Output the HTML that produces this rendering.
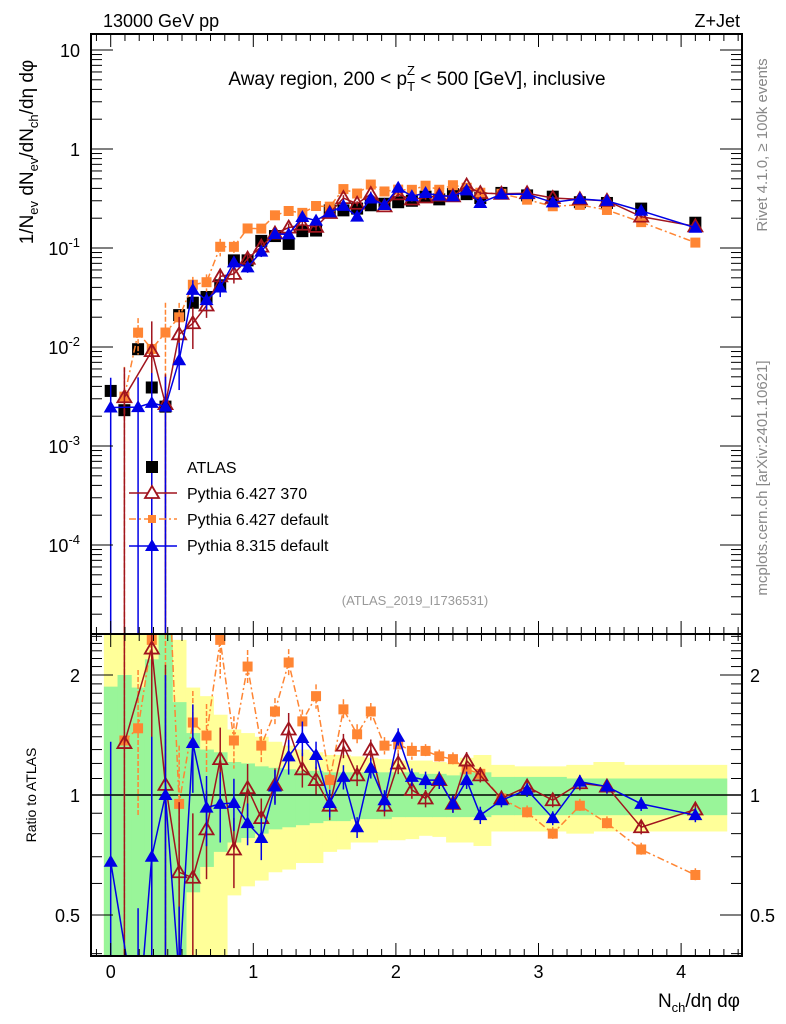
<!DOCTYPE html>
<html><head><meta charset="utf-8"><style>
html,body{margin:0;padding:0;background:#fff;overflow:hidden;width:786px;height:1024px;}
svg{display:block;font-family:"Liberation Sans",sans-serif;}
</style></head><body>
<svg id="chart" width="786" height="1024" viewBox="0 0 786 1024" xmlns="http://www.w3.org/2000/svg">
<defs>
<clipPath id="clipMain"><rect x="91" y="34" width="651" height="600"/></clipPath>
<clipPath id="clipRatio"><rect x="91" y="634" width="651" height="322"/></clipPath>
</defs>
<g id="bands" clip-path="url(#clipRatio)"></g>
<g id="ratioMarks" clip-path="url(#clipRatio)"></g>
<g id="mainMarks" clip-path="url(#clipMain)"></g>
<g id="axes"></g>
<text x="103" y="27" font-size="18">13000 GeV pp</text>
<text x="740" y="27" font-size="18" text-anchor="end">Z+Jet</text>
<text x="417" y="85" font-size="19" text-anchor="middle">Away region, 200 &lt; p<tspan font-size="13" dy="6">T</tspan><tspan font-size="13" dx="-8" dy="-16">Z</tspan><tspan dy="10"> &lt; 500 [GeV], inclusive</tspan></text>
<text x="415" y="605" font-size="13" fill="#999" text-anchor="middle">(ATLAS_2019_I1736531)</text>
<text transform="translate(767,145) rotate(-90)" font-size="15" fill="#888" text-anchor="middle">Rivet 4.1.0, ≥ 100k events</text>
<text transform="translate(767,478) rotate(-90)" font-size="15" fill="#888" text-anchor="middle">mcplots.cern.ch [arXiv:2401.10621]</text>
<text transform="translate(33,152) rotate(-90)" font-size="19" text-anchor="middle">1/N<tspan font-size="13" dy="5">ev</tspan><tspan dy="-5"> dN</tspan><tspan font-size="13" dy="5">ev</tspan><tspan dy="-5">/dN</tspan><tspan font-size="13" dy="5">ch</tspan><tspan dy="-5">/dη dφ</tspan></text>
<text transform="translate(36,795) rotate(-90)" font-size="14" text-anchor="middle">Ratio to ATLAS</text>
<text x="740" y="1007" font-size="19" text-anchor="end">N<tspan font-size="13" dy="5">ch</tspan><tspan dy="-5">/dη dφ</tspan></text>
<g id="legend">
<g><rect x="146" y="461" width="12" height="12" fill="#000"/><text x="187" y="473" font-size="16">ATLAS</text></g>
<g><line x1="129" y1="493" x2="177" y2="493" stroke="#a0141e" stroke-width="1.5"/><polygon points="152,486 159,498 145,498" fill="#fff" stroke="#a0141e" stroke-width="1.8"/><text x="187" y="499" font-size="16">Pythia 6.427 370</text></g>
<g><line x1="129" y1="519" x2="177" y2="519" stroke="#ff8533" stroke-width="1.5" stroke-dasharray="7,3,2,3"/><rect x="148" y="515" width="8" height="8" fill="#ff8533"/><text x="187" y="525" font-size="16">Pythia 6.427 default</text></g>
<g><line x1="129" y1="546" x2="177" y2="546" stroke="#0000e6" stroke-width="1.5"/><polygon points="152,539 159,551 145,551" fill="#0000e6"/><text x="187" y="551" font-size="16">Pythia 8.315 default</text></g>
</g>
</svg>
<script>
// ---- data ----
const xVals = [0,0.096,0.192,0.288,0.384,0.48,0.576,0.672,0.768,0.864,0.96,1.056,1.152,1.248,1.344,1.44,1.536,1.632,1.728,1.824,1.92,2.016,2.112,2.208,2.304,2.4,2.496,2.592,2.74,2.92,3.10,3.29,3.48,3.72,4.10];
const atlas = [3.6e-3,2.3e-3,9.5e-3,3.9e-3,2.5e-3,0.021,0.028,0.032,0.042,0.075,0.075,0.118,0.132,0.11,0.148,0.15,0.24,0.24,0.25,0.27,0.28,0.29,0.30,0.33,0.31,0.35,0.35,0.32,0.36,0.34,0.33,0.29,0.285,0.25,0.18];
const ratio370 = [null,1.35,null,2.33,1.06,0.64,0.62,0.82,1.23,0.73,1.04,0.875,1.06,1.46,1.16,1.09,0.94,1.33,1.12,1.30,0.94,1.2,1.03,0.98,1.09,0.95,1.22,1.12,0.98,1.05,0.97,1.07,1.05,0.83,0.92];
const ratio6def = [null,1.37,1.47,2.45,5.6,0.95,1.52,1.41,2.45,1.37,2.1,1.33,1.62,2.15,1.53,1.77,1.09,1.64,1.42,1.62,1.33,1.34,1.29,1.29,1.25,1.23,1.16,1.13,0.98,0.905,0.80,0.94,0.85,0.73,0.63];
const ratio8def = [0.68,null,0.26,0.70,1.0,0.35,1.35,0.93,0.95,0.955,0.85,0.78,1.05,1.25,1.39,1.26,0.955,1.11,0.83,1.17,0.97,1.4,1.11,1.09,1.09,0.95,1.09,0.89,0.97,1.03,0.875,1.08,1.05,0.95,0.89];
const err370 = [0,1.0,0,1.0,1.0,0.5,0.45,0.25,0.2,0.2,0.15,0.12,0.1,0.1,0.1,0.08,0.08,0.07,0.06,0.06,0.06,0.06,0.05,0.05,0.05,0.05,0.05,0.04,0.04,0.04,0.04,0.04,0.04,0.04,0.04];
const err6def = [0,1.0,0.4,0.35,1.0,0.4,0.2,0.2,0.2,0.15,0.1,0.1,0.08,0.08,0.07,0.07,0.06,0.06,0.06,0.05,0.05,0.05,0.05,0.04,0.04,0.04,0.04,0.04,0.04,0.04,0.04,0.04,0.04,0.04,0.04];
const err8def = [1.0,0,1.0,1.0,1.0,0.5,0.25,0.2,0.2,0.15,0.12,0.12,0.1,0.1,0.1,0.08,0.08,0.07,0.06,0.06,0.06,0.05,0.05,0.05,0.05,0.05,0.05,0.05,0.04,0.04,0.04,0.04,0.04,0.04,0.04];
const yelUp = [2.6,2.6,2.6,2.6,2.6,2.45,1.86,1.77,1.59,1.46,1.43,1.40,1.36,1.33,1.30,1.28,1.26,1.26,1.25,1.24,1.23,1.22,1.22,1.22,1.21,1.2,1.24,1.26,1.19,1.18,1.18,1.19,1.21,1.19,1.19];
const yelDn = [0.39,0.39,0.39,0.39,0.39,0.39,0.39,0.39,0.39,0.56,0.59,0.61,0.64,0.65,0.675,0.675,0.72,0.73,0.76,0.76,0.77,0.77,0.775,0.79,0.785,0.76,0.76,0.745,0.81,0.81,0.81,0.80,0.81,0.81,0.81];
const grnUp = [1.87,2.0,1.86,2.19,2.6,1.71,1.43,1.30,1.28,1.21,1.2,1.18,1.17,1.16,1.15,1.15,1.14,1.14,1.14,1.14,1.14,1.14,1.14,1.13,1.13,1.12,1.14,1.14,1.11,1.11,1.11,1.1,1.1,1.1,1.1];
const grnDn = [0.39,0.39,0.39,0.39,0.39,0.39,0.57,0.66,0.72,0.76,0.78,0.8,0.82,0.83,0.84,0.85,0.86,0.86,0.87,0.87,0.87,0.88,0.88,0.88,0.88,0.88,0.88,0.88,0.89,0.89,0.89,0.89,0.89,0.89,0.89];
const yTicksMain = ["10","1","10^-1","10^-2","10^-3","10^-4"];
const xTickLabels = ["0","1","2","3","4"];
const ratioTickLabels = ["2","1","0.5"];

// ---- axes functions ----
const X0=110.7, XS=142.6;
function xp(v){return X0+v*XS;}
function yMain(v){return 149-99*Math.log10(v);}
function yRatio(r){return 795-120*Math.log2(r);}
const NS="http://www.w3.org/2000/svg";
function mk(tag,attrs,parent){const e=document.createElementNS(NS,tag);for(const k in attrs)e.setAttribute(k,attrs[k]);parent.appendChild(e);return e;}
const bands=document.getElementById('bands'),rm=document.getElementById('ratioMarks'),mm=document.getElementById('mainMarks'),ax=document.getElementById('axes');

const edges=[];
for(let i=0;i<xVals.length;i++){
  const lo = i===0 ? xVals[0]-0.048 : (xVals[i-1]+xVals[i])/2;
  const hi = i===xVals.length-1 ? xVals[i]+0.22 : (xVals[i]+xVals[i+1])/2;
  edges.push([lo,hi]);
}
function band(up,dn,color,name){
  for(let i=0;i<xVals.length;i++){
    const y1=Math.max(yRatio(up[i]),630),y2=Math.min(yRatio(dn[i]),960);
    const r=mk('rect',{x:xp(edges[i][0]),y:y1,width:xp(edges[i][1])-xp(edges[i][0])+0.5,height:y2-y1,fill:color},bands);
    
    
  }
}
band(yelUp,yelDn,'#ffff99','total-uncertainty');
band(grnUp,grnDn,'#99f599','stat-uncertainty');
const one=mk('line',{x1:91,x2:742,y1:yRatio(1),y2:yRatio(1),stroke:'#000','stroke-width':1.5},rm);



const series=[
 {name:'pythia6-default',ratio:ratio6def,err:err6def,color:'#ff8533',dash:'7,3,2,3',marker:'sq'},
 {name:'pythia6-370',ratio:ratio370,err:err370,color:'#a0141e',dash:null,marker:'otri'},
 {name:'pythia8-default',ratio:ratio8def,err:err8def,color:'#0000e6',dash:null,marker:'tri'}
];
function marker(g,type,x,y,color){
  let e;
  if(type==='sq') e=mk('rect',{x:x-5,y:y-5,width:10,height:10,fill:color},g);
  else if(type==='otri') e=mk('polygon',{points:`${x},${y-7} ${x+7},${y+5} ${x-7},${y+5}`,fill:'none',stroke:color,'stroke-width':1.8},g);
  else e=mk('polygon',{points:`${x},${y-7} ${x+7},${y+5} ${x-7},${y+5}`,fill:color},g);
  return e;
}
function clampY(y,lo,hi){return Math.max(lo,Math.min(hi,y));}
function drawSeries(parent,s,valFn,yFn,panel,ymin,ymax){
  const g=mk('g',{},parent);
  
  
  let pts=[];
  for(let i=0;i<xVals.length;i++){const v=valFn(i);if(v===null)continue;pts.push([xp(xVals[i]),yFn(v),v,i]);}
  const line=mk('polyline',{points:pts.map(p=>p[0]+','+clampY(p[1],ymin-300,ymax+300)).join(' '),fill:'none',stroke:s.color,'stroke-width':1.5},g);
  if(s.dash) line.setAttribute('stroke-dasharray',s.dash);
  
  
  for(const p of pts){
    const e=s.err[p[3]];
    const lo=Math.max(p[2]*(1-e),1e-12),hi=p[2]*(1+e);
    const eb=mk('line',{x1:p[0],x2:p[0],y1:clampY(yFn(hi),ymin,ymax),y2:clampY(yFn(lo),ymin,ymax),stroke:s.color,'stroke-width':1.5},g);
    if(s.dash) eb.setAttribute('stroke-dasharray','5,2');
    
    
    if(p[1]<ymin-10||p[1]>ymax+10) continue;
    const m=marker(g,s.marker,p[0],p[1],s.color);
    
    
  }
}
for(const s of series){
  drawSeries(rm,s,i=>s.ratio[i],yRatio,'ratio',634,956);
  drawSeries(mm,s,i=>s.ratio[i]===null?null:atlas[i]*s.ratio[i],yMain,'main',34,634);
}
const ag=mk('g',{},mm);


for(let i=0;i<xVals.length;i++){
  const r=mk('rect',{x:xp(xVals[i])-6,y:yMain(atlas[i])-6,width:12,height:12,fill:'#000'},ag);
  
  
}
mm.insertBefore(ag,mm.firstChild);

// ---- axes ----
function ln(x1,y1,x2,y2,w){return mk('line',{x1,y1,x2,y2,stroke:'#000','stroke-width':w||1},ax);}
const fr1=mk('rect',{x:91,y:34,width:651,height:600,fill:'none',stroke:'#000','stroke-width':2},ax);


const fr2=mk('rect',{x:91,y:634,width:651,height:322,fill:'none',stroke:'#000','stroke-width':2},ax);


for(let k=-1;k<=44;k++){
  const x=xp(k/10); if(x<92||x>741) continue;
  const major=k%10===0; const L=major?13:7;
  ln(x,34,x,34+L); ln(x,634,x,634-L); ln(x,634,x,634+L); ln(x,956,x,956-L);
}
xTickLabels.forEach((t,j)=>{const e=mk('text',{x:xp(j),y:978,'font-size':18,'text-anchor':'middle'},ax);e.textContent=t;
 
 });
for(let d=-5;d<=1;d++){
  for(let m=1;m<=9;m++){
    const v=m*Math.pow(10,d); const y=yMain(v); if(y<35||y>633) continue;
    const L=m===1?22:11; ln(91,y,91+L,y); ln(742,y,742-L,y);
  }
}
yTicksMain.forEach((t,j)=>{
  const v=Math.pow(10,1-j); const y=yMain(v);
  const e=mk('text',{x:80,y:y+7,'font-size':18,'text-anchor':'end'},ax);
  if(t.includes('^')){const [b,p]=t.split('^');e.textContent=b;const ts=mk('tspan',{'font-size':13,dy:-8},e);ts.textContent=p;}
  else e.textContent=t;
  
  
});
for(let r=0.4;r<=2.56;r+=0.1){
  const y=yRatio(r); if(y<635||y>955) continue;
  const major=Math.abs(r-0.5)<1e-6||Math.abs(r-1)<1e-6||Math.abs(r-2)<1e-6;
  const L=major?22:11; ln(91,y,91+L,y); ln(742,y,742-L,y);
}
ratioTickLabels.forEach(t=>{
  const y=yRatio(parseFloat(t));
  const a=mk('text',{x:80,y:y+7,'font-size':18,'text-anchor':'end'},ax);a.textContent=t;
  
  
  const b=mk('text',{x:750,y:y+7,'font-size':18},ax);b.textContent=t;
  
  
});
</script>
</body></html>
